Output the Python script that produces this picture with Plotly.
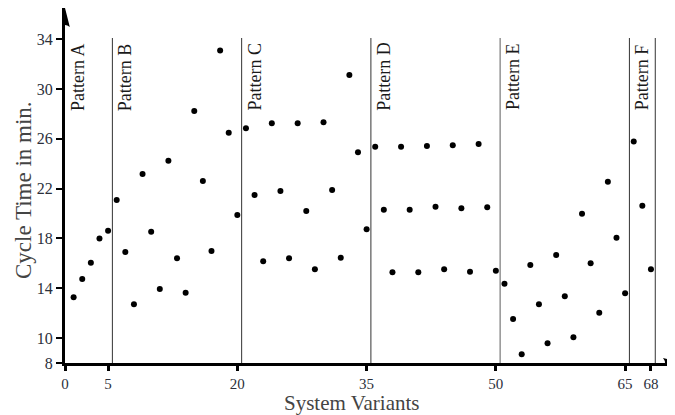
import plotly.graph_objects as go

# ---- data ----
variants = list(range(1, 69))
cycle_time = [13.28, 14.75, 16.06, 17.99, 18.63, 21.09, 16.92, 12.71, 23.18, 18.55,
              13.94, 24.25, 16.41, 13.65, 28.24, 22.62, 17.0, 33.09, 26.5, 19.89,
              26.85, 21.49, 16.17, 27.25, 21.81, 16.41, 27.25, 20.21, 15.53, 27.33,
              21.9, 16.46, 31.13, 24.92, 18.74, 25.37, 20.31, 15.29, 25.37, 20.31,
              15.29, 25.43, 20.55, 15.53, 25.49, 20.43, 15.33, 25.59, 20.5, 15.41,
              14.37, 11.53, 8.7, 15.87, 12.71, 9.58, 16.67, 13.36, 10.06, 19.99,
              16.01, 12.04, 22.56, 18.06, 13.6, 25.78, 20.63, 15.53]
pattern_names = ["Pattern A", "Pattern B", "Pattern C", "Pattern D", "Pattern E", "Pattern F"]
pattern_starts = [0, 5.5, 20.5, 35.5, 50.5, 65.5]
boundaries = [5.5, 20.5, 35.5, 50.5, 65.5, 68.5]
x_ticks = [0, 5, 20, 35, 50, 65, 68]
y_ticks = [8, 10, 14, 18, 22, 26, 30, 34]

XMAX = 70.79
YMIN, YMAX = 8, 36.51
FONT = "Liberation Serif"

fig = go.Figure()
fig.add_trace(go.Scatter(x=variants, y=cycle_time, mode="markers",
                         marker=dict(color="black", size=6), showlegend=False,
                         cliponaxis=False))

shapes = []
for i, b in enumerate(boundaries):
    col = "#999999" if i == 3 else "#333333"
    w = 1.6 if i == 3 else 1
    shapes.append(dict(type="line", xref="x", yref="y", x0=b, x1=b, y0=YMIN, y1=34.1,
                       line=dict(color=col, width=w), layer="below"))
# arrow heads
shapes.append(dict(type="path", xref="x", yref="y", xsizemode="pixel", ysizemode="pixel",
                   xanchor=0, yanchor=YMAX,
                   path="M -4.8 -19 Q 0 -15 4.8 -19 L 0 0 Z",
                   fillcolor="black", line=dict(width=0), layer="above"))
shapes.append(dict(type="path", xref="x", yref="y", xsizemode="pixel", ysizemode="pixel",
                   xanchor=XMAX, yanchor=YMIN,
                   path="M -12 -5 Q -8 0 -12 5 L 6 0 Z",
                   fillcolor="black", line=dict(width=0), layer="above"))

annotations = []
for name, s in zip(pattern_names, pattern_starts):
    annotations.append(dict(x=s + 1.5, y=30.97, xref="x", yref="y", text=name,
                            textangle=-90, showarrow=False, xanchor="center", yanchor="middle",
                            font=dict(family=FONT, size=18, color="#1a1a1a")))
annotations.append(dict(x=0.4705, y=-0.1113, xref="paper", yref="paper", text="System Variants",
                        showarrow=False, xanchor="center", yanchor="middle",
                        font=dict(family=FONT, size=21, color="#444444")))
annotations.append(dict(x=-0.069, y=0.487, xref="paper", yref="paper", text="Cycle Time in min.",
                        textangle=-90, showarrow=False, xanchor="center", yanchor="middle",
                        font=dict(family=FONT, size=23, color="#444444")))

fig.update_layout(
    width=667, height=407,
    margin=dict(l=57, r=0, t=0, b=52),
    plot_bgcolor="white", paper_bgcolor="white",
    shapes=shapes, annotations=annotations,
    xaxis=dict(range=[0, XMAX], tickvals=x_ticks, ticktext=[str(t) for t in x_ticks],
               showgrid=False, zeroline=False, showline=True, linewidth=3, linecolor="black",
               ticks="outside", ticklen=5, tickwidth=3, tickcolor="black",
               tickfont=dict(family=FONT, size=15, color="#2b2f3b")),
    yaxis=dict(range=[YMIN, YMAX], tickvals=y_ticks, ticktext=[str(t) for t in y_ticks],
               showgrid=False, zeroline=False, showline=True, linewidth=3, linecolor="black",
               ticks="outside", ticklen=6, tickwidth=2, tickcolor="black",
               tickfont=dict(family=FONT, size=16, color="#2b2f3b")),
)

fig.write_html("out.html")
